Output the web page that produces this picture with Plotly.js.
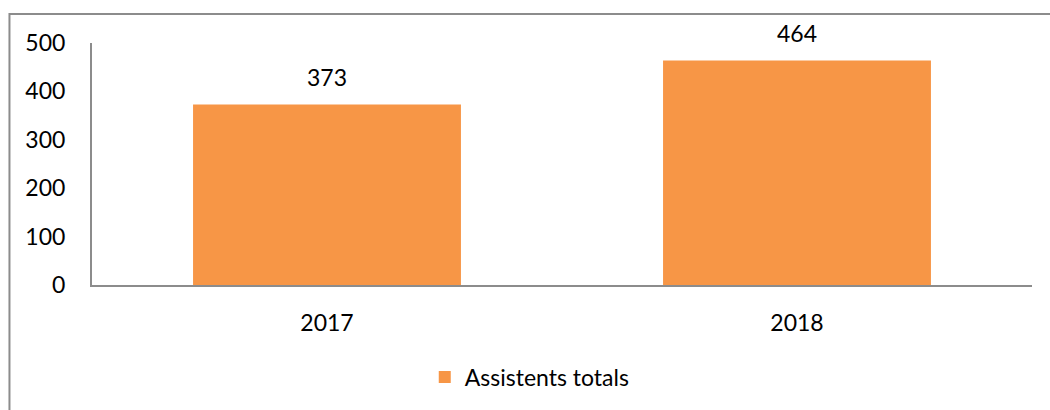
<!DOCTYPE html>
<html>
<head>
<meta charset="utf-8">
<script src="https://cdn.plot.ly/plotly-3.0.1.min.js"></script>
<style>html,body{margin:0;padding:0;background:#fff;}#chart{width:1050px;height:410px;}</style>
</head>
<body>
<div id="chart"></div>
<script>
const categories = ["2017", "2018"];
const values = [373, 464];
const seriesName = "Assistents totals";
const yTicks = [0, 100, 200, 300, 400, 500];

const FONT = "Lato, 'Open Sans', sans-serif";
const FS = 23;
const trace = {
  type: "bar",
  x: categories,
  y: values,
  name: seriesName,
  width: 0.57,
  marker: {color: "#F79646"},
  showlegend: true,
  hoverinfo: "none"
};

const annotations = categories.map((c, i) => ({
  x: i, y: values[i], xref: "x", yref: "y",
  text: String(values[i]), showarrow: false,
  yanchor: "bottom", yshift: 11,
  font: {family: FONT, size: FS, color: "#000"}
}));

const layout = {
  width: 1050, height: 410,
  margin: {l: 92, r: 18, t: 43, b: 125},
  paper_bgcolor: "#fff", plot_bgcolor: "#fff",
  font: {family: FONT, size: FS, color: "#000"},
  xaxis: {
    type: "category", range: [-0.5, 1.5], autorange: false,
    showline: true, linecolor: "#8c8c8c", linewidth: 2,
    showgrid: false, ticks: "outside", ticklen: 16, tickcolor: "rgba(0,0,0,0)",
    tickfont: {family: FONT, size: FS, color: "#000"}
  },
  yaxis: {
    range: [0, 500], autorange: false, tickvals: yTicks, ticktext: yTicks.map(String),
    showline: true, linecolor: "#8c8c8c", linewidth: 2,
    showgrid: false, zeroline: false, ticks: "outside", ticklen: 20, tickcolor: "rgba(0,0,0,0)",
    tickfont: {family: FONT, size: FS, color: "#000"}
  },
  legend: {
    orientation: "h", x: 0.354, xanchor: "left", y: -0.38, yanchor: "middle",
    font: {family: FONT, size: FS, color: "#000"}
  },
  annotations: annotations,
  shapes: [{
    type: "rect", xref: "paper", yref: "paper",
    x0: -0.0878, x1: 1.3, y0: -1, y1: 1.1198,
    line: {color: "#8c8c8c", width: 2}, fillcolor: "rgba(0,0,0,0)", layer: "below"
  }]
};

Plotly.newPlot("chart", [trace], layout, {staticPlot: true, displayModeBar: false});
</script>
</body>
</html>
